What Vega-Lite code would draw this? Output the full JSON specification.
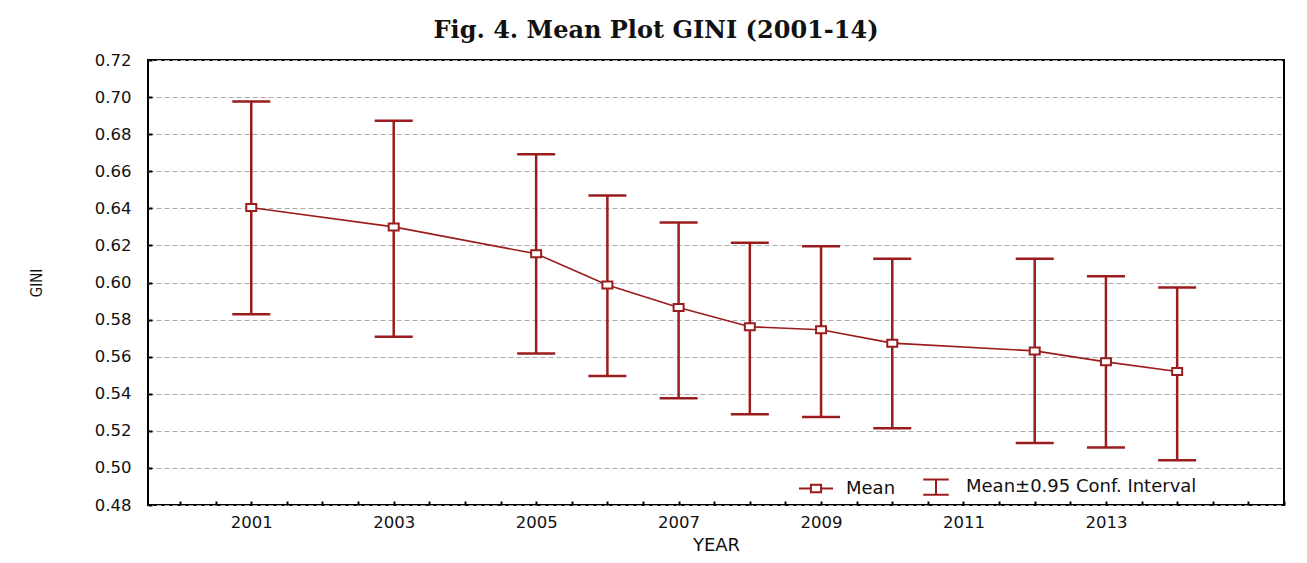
{
  "$schema": "https://vega.github.io/schema/vega-lite/v6.json",
  "width": 1136,
  "height": 445,
  "autosize": {"type": "none"},
  "padding": {"left": 148, "top": 60, "right": 23, "bottom": 58},
  "background": "white",
  "title": {
    "text": "Fig. 4. Mean Plot GINI (2001-14)",
    "font": "DejaVu Serif",
    "fontSize": 24,
    "fontWeight": "bold",
    "color": "#111111",
    "anchor": "middle",
    "dx": -60,
    "offset": 9
  },
  "config": {
    "view": {"stroke": "black", "strokeWidth": 2},
    "tick": {"opacity": 1, "thickness": 2.5},
    "axis": {
      "labelFont": "DejaVu Sans",
      "labelFontSize": 16.5,
      "labelColor": "#111111",
      "titleFont": "DejaVu Sans",
      "titleFontSize": 18,
      "titleFontWeight": "normal",
      "titleColor": "#111111",
      "domain": false,
      "tickColor": "black",
      "labelOverlap": false
    },
    "axisY": {
      "values": [0.48, 0.50, 0.52, 0.54, 0.56, 0.58, 0.60, 0.62, 0.64, 0.66, 0.68, 0.70, 0.72],
      "format": ".2f",
      "grid": true,
      "gridColor": "#aaaaaa",
      "gridDash": [5, 3],
      "gridWidth": 1,
      "tickSize": -4,
      "tickWidth": 2,
      "labelPadding": 21,
      "titlePadding": 50,
      "titleFont": "DejaVu Sans Condensed",
      "titleFontSize": 15
    },
    "axisX": {
      "values": [2000, 2001, 2002, 2003, 2004, 2005, 2006, 2007, 2008, 2009, 2010, 2011, 2012, 2013, 2014, 2015],
      "labelExpr": "(datum.value % 2 == 1 && datum.value <= 2013) ? toString(datum.value) : ''",
      "grid": false,
      "tickSize": -4,
      "tickWidth": 2,
      "labelPadding": 13,
      "titlePadding": 6
    }
  },
  "data": {
    "values": [
      {"year": 2001, "mean": 0.6404, "lo": 0.5829, "hi": 0.6976},
      {"year": 2003, "mean": 0.6300, "lo": 0.5708, "hi": 0.6872},
      {"year": 2005, "mean": 0.6155, "lo": 0.5617, "hi": 0.6692},
      {"year": 2006, "mean": 0.5986, "lo": 0.5496, "hi": 0.6469},
      {"year": 2007, "mean": 0.5865, "lo": 0.5376, "hi": 0.6323},
      {"year": 2008, "mean": 0.5761, "lo": 0.5290, "hi": 0.6214},
      {"year": 2009, "mean": 0.5745, "lo": 0.5274, "hi": 0.6196},
      {"year": 2010, "mean": 0.5673, "lo": 0.5214, "hi": 0.6128},
      {"year": 2012, "mean": 0.5631, "lo": 0.5135, "hi": 0.6128},
      {"year": 2013, "mean": 0.5572, "lo": 0.5110, "hi": 0.6034},
      {"year": 2014, "mean": 0.5520, "lo": 0.5042, "hi": 0.5973}
    ]
  },
  "layer": [
    {
      "mark": {
        "type": "errorbar",
        "ticks": {"size": 38},
        "rule": {"strokeWidth": 2.5}
      },
      "encoding": {
        "x": {
          "field": "year",
          "type": "quantitative",
          "scale": {"domain": [1999.55, 2015.5], "nice": false, "zero": false},
          "title": "YEAR"
        },
        "y": {
          "field": "lo",
          "type": "quantitative",
          "scale": {"domain": [0.48, 0.72], "nice": false, "zero": false},
          "title": "GINI"
        },
        "y2": {"field": "hi"},
        "color": {
          "datum": "Mean±0.95 Conf. Interval",
          "scale": {
            "domain": ["Mean", "Mean±0.95 Conf. Interval"],
            "range": ["#9b1c1c", "#9b1c1c"]
          },
          "legend": {
            "title": null,
            "orient": "none",
            "legendX": 650,
            "legendY": 409,
            "direction": "horizontal",
            "labelFont": "DejaVu Sans",
            "labelFontSize": 18,
            "labelColor": "#111111",
            "labelLimit": 0,
            "symbolSize": 1156,
            "symbolStrokeWidth": 2,
            "columnPadding": 22,
            "labelOffset": 12,
            "encode": {
              "symbols": {
                "update": {
                  "shape": {"signal": "datum.value === 'Mean' ? 'M-1,0H-0.3M0.3,0H1M-0.3,-0.22H0.3V0.22H-0.3ZM-0.3,-0.22V0.22H0.3V-0.22Z' : 'M-0.75,-0.45H0.75M0,-0.45V0.45M-0.75,0.45H0.75'"},
                  "stroke": {"value": "#9b1c1c"},
                  "strokeWidth": {"value": 2}
                }
              }
            }
          }
        }
      }
    },
    {
      "mark": {"type": "line", "strokeWidth": 1.6},
      "encoding": {
        "x": {"field": "year", "type": "quantitative", "title": "YEAR"},
        "y": {"field": "mean", "type": "quantitative", "title": "GINI"},
        "color": {"datum": "Mean"}
      }
    },
    {
      "mark": {
        "type": "point",
        "shape": "M-1,-0.7H1V0.7H-1Z",
        "size": 100,
        "filled": true,
        "fill": "white",
        "stroke": "#9b1c1c",
        "strokeWidth": 2,
        "opacity": 1
      },
      "encoding": {
        "x": {"field": "year", "type": "quantitative", "title": "YEAR"},
        "y": {"field": "mean", "type": "quantitative", "title": "GINI"}
      }
    }
  ]
}
